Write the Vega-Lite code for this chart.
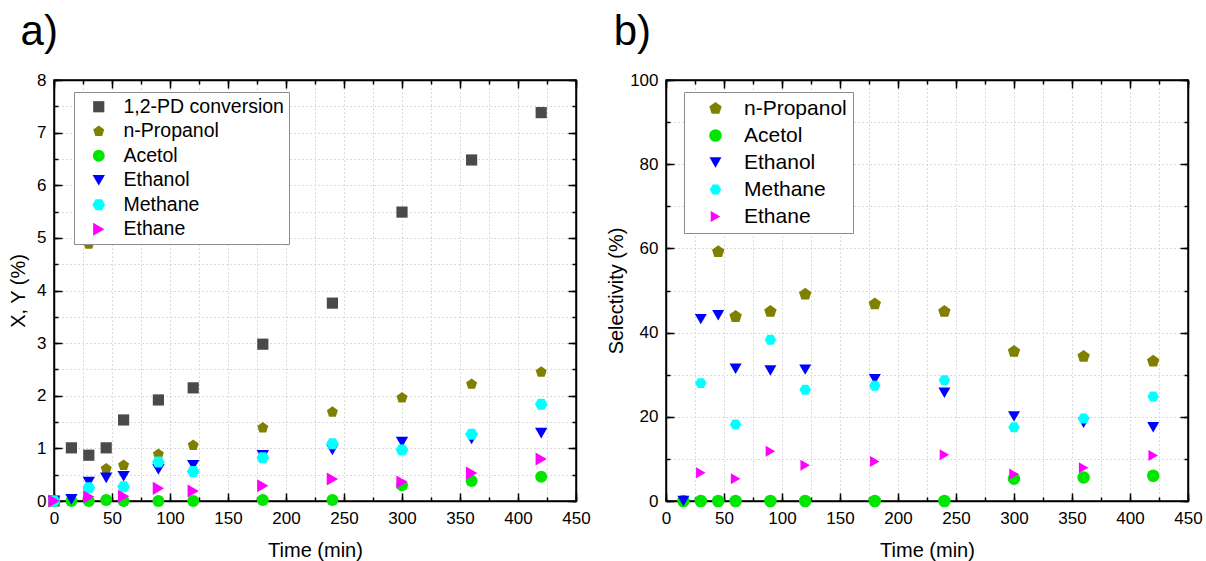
{
  "$schema": "https://vega.github.io/schema/vega-lite/v6.json",
  "padding": {"left": 7, "top": 10, "right": 5, "bottom": 5},
  "background": "white",
  "config": {
    "font": "Liberation Sans",
    "view": {"stroke": "black", "strokeWidth": 1.5},
    "axis": {"labelFontSize": 17, "titleFontSize": 20, "titleFontWeight": "normal", "labelColor": "black", "titleColor": "black", "tickColor": "black", "domainColor": "black", "domainWidth": 1.5, "tickWidth": 1.5, "gridColor": "#d0d0d0", "gridDash": [1.5, 2.5], "gridWidth": 1, "labelFlush": false},
    "title": {"fontSize": 42, "fontWeight": "normal", "anchor": "start", "frame": "bounds", "color": "black"}
  },
  "resolve": {"scale": {"color": "independent", "shape": "independent", "size": "independent"}, "legend": {"color": "independent", "shape": "independent", "size": "independent"}},
  "datasets": {
    "a": [
      {"t": 0, "series": "1,2-PD conversion", "v": 0},
      {"t": 15, "series": "1,2-PD conversion", "v": 1.01},
      {"t": 30, "series": "1,2-PD conversion", "v": 0.87},
      {"t": 45, "series": "1,2-PD conversion", "v": 1.01},
      {"t": 60, "series": "1,2-PD conversion", "v": 1.54},
      {"t": 90, "series": "1,2-PD conversion", "v": 1.92},
      {"t": 120, "series": "1,2-PD conversion", "v": 2.15},
      {"t": 180, "series": "1,2-PD conversion", "v": 2.98},
      {"t": 240, "series": "1,2-PD conversion", "v": 3.76},
      {"t": 300, "series": "1,2-PD conversion", "v": 5.49},
      {"t": 360, "series": "1,2-PD conversion", "v": 6.48},
      {"t": 420, "series": "1,2-PD conversion", "v": 7.38},
      {"t": 0, "series": "n-Propanol", "v": 0},
      {"t": 30, "series": "n-Propanol", "v": 4.88},
      {"t": 45, "series": "n-Propanol", "v": 0.61},
      {"t": 60, "series": "n-Propanol", "v": 0.68},
      {"t": 90, "series": "n-Propanol", "v": 0.89},
      {"t": 120, "series": "n-Propanol", "v": 1.06},
      {"t": 180, "series": "n-Propanol", "v": 1.39},
      {"t": 240, "series": "n-Propanol", "v": 1.69},
      {"t": 300, "series": "n-Propanol", "v": 1.96},
      {"t": 360, "series": "n-Propanol", "v": 2.22},
      {"t": 420, "series": "n-Propanol", "v": 2.45},
      {"t": 0, "series": "Acetol", "v": 0},
      {"t": 15, "series": "Acetol", "v": 0},
      {"t": 30, "series": "Acetol", "v": 0},
      {"t": 45, "series": "Acetol", "v": 0.02},
      {"t": 60, "series": "Acetol", "v": 0},
      {"t": 90, "series": "Acetol", "v": 0},
      {"t": 120, "series": "Acetol", "v": 0},
      {"t": 180, "series": "Acetol", "v": 0.02},
      {"t": 240, "series": "Acetol", "v": 0.02},
      {"t": 300, "series": "Acetol", "v": 0.3},
      {"t": 360, "series": "Acetol", "v": 0.38},
      {"t": 420, "series": "Acetol", "v": 0.46},
      {"t": 0, "series": "Ethanol", "v": 0},
      {"t": 15, "series": "Ethanol", "v": 0.03},
      {"t": 30, "series": "Ethanol", "v": 0.36},
      {"t": 45, "series": "Ethanol", "v": 0.44},
      {"t": 60, "series": "Ethanol", "v": 0.47},
      {"t": 90, "series": "Ethanol", "v": 0.6},
      {"t": 120, "series": "Ethanol", "v": 0.68},
      {"t": 180, "series": "Ethanol", "v": 0.87},
      {"t": 240, "series": "Ethanol", "v": 0.97},
      {"t": 300, "series": "Ethanol", "v": 1.12},
      {"t": 360, "series": "Ethanol", "v": 1.18},
      {"t": 420, "series": "Ethanol", "v": 1.29},
      {"t": 0, "series": "Methane", "v": 0},
      {"t": 30, "series": "Methane", "v": 0.25},
      {"t": 60, "series": "Methane", "v": 0.27},
      {"t": 90, "series": "Methane", "v": 0.74},
      {"t": 120, "series": "Methane", "v": 0.56},
      {"t": 180, "series": "Methane", "v": 0.82},
      {"t": 240, "series": "Methane", "v": 1.09},
      {"t": 300, "series": "Methane", "v": 0.97},
      {"t": 360, "series": "Methane", "v": 1.27},
      {"t": 420, "series": "Methane", "v": 1.84},
      {"t": 0, "series": "Ethane", "v": 0},
      {"t": 30, "series": "Ethane", "v": 0.08},
      {"t": 60, "series": "Ethane", "v": 0.09},
      {"t": 90, "series": "Ethane", "v": 0.24},
      {"t": 120, "series": "Ethane", "v": 0.19},
      {"t": 180, "series": "Ethane", "v": 0.29},
      {"t": 240, "series": "Ethane", "v": 0.42},
      {"t": 300, "series": "Ethane", "v": 0.36},
      {"t": 360, "series": "Ethane", "v": 0.53},
      {"t": 420, "series": "Ethane", "v": 0.8}
    ],
    "b": [
      {"t": 45, "series": "n-Propanol", "v": 59.2},
      {"t": 60, "series": "n-Propanol", "v": 43.8},
      {"t": 90, "series": "n-Propanol", "v": 45.0},
      {"t": 120, "series": "n-Propanol", "v": 49.1},
      {"t": 180, "series": "n-Propanol", "v": 46.8},
      {"t": 240, "series": "n-Propanol", "v": 45.0},
      {"t": 300, "series": "n-Propanol", "v": 35.5},
      {"t": 360, "series": "n-Propanol", "v": 34.3},
      {"t": 420, "series": "n-Propanol", "v": 33.2},
      {"t": 15, "series": "Acetol", "v": 0},
      {"t": 30, "series": "Acetol", "v": 0},
      {"t": 45, "series": "Acetol", "v": 0},
      {"t": 60, "series": "Acetol", "v": 0},
      {"t": 90, "series": "Acetol", "v": 0},
      {"t": 120, "series": "Acetol", "v": 0},
      {"t": 180, "series": "Acetol", "v": 0},
      {"t": 240, "series": "Acetol", "v": 0},
      {"t": 300, "series": "Acetol", "v": 5.3},
      {"t": 360, "series": "Acetol", "v": 5.6},
      {"t": 420, "series": "Acetol", "v": 6.0},
      {"t": 15, "series": "Ethanol", "v": 0},
      {"t": 30, "series": "Ethanol", "v": 43.2},
      {"t": 45, "series": "Ethanol", "v": 44.1},
      {"t": 60, "series": "Ethanol", "v": 31.4},
      {"t": 90, "series": "Ethanol", "v": 31.0},
      {"t": 120, "series": "Ethanol", "v": 31.2},
      {"t": 180, "series": "Ethanol", "v": 28.9},
      {"t": 240, "series": "Ethanol", "v": 25.7},
      {"t": 300, "series": "Ethanol", "v": 20.1},
      {"t": 360, "series": "Ethanol", "v": 18.6},
      {"t": 420, "series": "Ethanol", "v": 17.5},
      {"t": 30, "series": "Methane", "v": 28.0},
      {"t": 60, "series": "Methane", "v": 18.2},
      {"t": 90, "series": "Methane", "v": 38.3},
      {"t": 120, "series": "Methane", "v": 26.4},
      {"t": 180, "series": "Methane", "v": 27.4},
      {"t": 240, "series": "Methane", "v": 28.7},
      {"t": 300, "series": "Methane", "v": 17.5},
      {"t": 360, "series": "Methane", "v": 19.6},
      {"t": 420, "series": "Methane", "v": 24.8},
      {"t": 30, "series": "Ethane", "v": 6.7},
      {"t": 60, "series": "Ethane", "v": 5.3},
      {"t": 90, "series": "Ethane", "v": 11.8},
      {"t": 120, "series": "Ethane", "v": 8.5},
      {"t": 180, "series": "Ethane", "v": 9.4},
      {"t": 240, "series": "Ethane", "v": 11.0},
      {"t": 300, "series": "Ethane", "v": 6.4},
      {"t": 360, "series": "Ethane", "v": 7.9},
      {"t": 420, "series": "Ethane", "v": 10.8}
    ]
  },
  "spacing": 14,
  "hconcat": [
    {
      "width": 522,
      "height": 421,
      "data": {"name": "a"},
      "title": {"text": "a)", "dx": 12, "offset": 17},
      "layer": [
        {
          "mark": {"type": "point", "filled": true, "opacity": 1, "strokeWidth": 0},
          "encoding": {
            "x": {"field": "t", "type": "quantitative", "scale": {"domain": [0, 450], "nice": false, "zero": false},
              "axis": {"orient": "bottom", "values": [0, 50, 100, 150, 200, 250, 300, 350, 400, 450], "title": "Time (min)", "tickSize": -8, "labelPadding": 17, "grid": false, "titlePadding": 14}},
            "y": {"field": "v", "type": "quantitative", "scale": {"domain": [0, 8], "nice": false, "zero": false},
              "axis": {"orient": "left", "values": [0, 1, 2, 3, 4, 5, 6, 7, 8], "title": "X, Y (%)", "tickSize": -8, "labelPadding": 16, "grid": false, "titlePadding": 8}},
            "color": {"field": "series", "type": "nominal",
              "scale": {"domain": ["1,2-PD conversion", "n-Propanol", "Acetol", "Ethanol", "Methane", "Ethane"], "range": ["#4a4a4a", "#808000", "#00e600", "#0000ff", "#00ffff", "#ff00ff"]},
              "legend": {"orient": "none", "legendX": 20, "legendY": 12, "title": null, "strokeColor": "#8c8c8c", "fillColor": "white", "padding": 5, "symbolOffset": 10, "labelFontSize": 19.5, "labelLimit": 400, "rowPadding": 3.5, "labelOffset": 15, "symbolStrokeWidth": 0, "labelColor": "black"}},
            "shape": {"field": "series", "type": "nominal",
              "scale": {"domain": ["1,2-PD conversion", "n-Propanol", "Acetol", "Ethanol", "Methane", "Ethane"], "range": ["square", "M0,-1L0.951,-0.309L0.588,0.809L-0.588,0.809L-0.951,-0.309Z", "circle", "triangle-down", "M-1,0L-0.5,-0.866L0.5,-0.866L1,0L0.5,0.866L-0.5,0.866Z", "triangle-right"]}},
            "size": {"field": "series", "type": "nominal",
              "scale": {"domain": ["1,2-PD conversion", "n-Propanol", "Acetol", "Ethanol", "Methane", "Ethane"], "range": [125, 170, 120, 160, 150, 160]}}
          }
        },
        {
          "mark": {"type": "point", "opacity": 0},
          "encoding": {
            "x": {"field": "t", "type": "quantitative", "axis": {"orient": "top", "values": [0, 50, 100, 150, 200, 250, 300, 350, 400, 450], "labels": false, "title": null, "tickSize": -8, "grid": false}},
            "y": {"field": "v", "type": "quantitative", "axis": {"orient": "right", "values": [0, 1, 2, 3, 4, 5, 6, 7, 8], "labels": false, "title": null, "tickSize": -8, "grid": false}}
          }
        },
        {
          "mark": {"type": "point", "opacity": 0},
          "encoding": {
            "x": {"field": "t", "type": "quantitative", "axis": {"orient": "bottom", "values": [0, 25, 50, 75, 100, 125, 150, 175, 200, 225, 250, 275, 300, 325, 350, 375, 400, 425, 450], "labels": false, "title": null, "tickSize": -4, "grid": true, "domain": false}},
            "y": {"field": "v", "type": "quantitative", "axis": {"orient": "left", "values": [0, 0.5, 1, 1.5, 2, 2.5, 3, 3.5, 4, 4.5, 5, 5.5, 6, 6.5, 7, 7.5, 8], "labels": false, "title": null, "tickSize": -4, "grid": true, "domain": false}}
          }
        },
        {
          "mark": {"type": "point", "opacity": 0},
          "encoding": {
            "x": {"field": "t", "type": "quantitative", "axis": {"orient": "top", "values": [0, 25, 50, 75, 100, 125, 150, 175, 200, 225, 250, 275, 300, 325, 350, 375, 400, 425, 450], "labels": false, "title": null, "tickSize": -4, "grid": false, "domain": false}},
            "y": {"field": "v", "type": "quantitative", "axis": {"orient": "right", "values": [0, 0.5, 1, 1.5, 2, 2.5, 3, 3.5, 4, 4.5, 5, 5.5, 6, 6.5, 7, 7.5, 8], "labels": false, "title": null, "tickSize": -4, "grid": false, "domain": false}}
          }
        }
      ],
      "resolve": {"axis": {"x": "independent", "y": "independent"}}
    },
    {
      "width": 522,
      "height": 421,
      "data": {"name": "b"},
      "title": {"text": "b)", "dx": 7, "offset": 17},
      "layer": [
        {
          "mark": {"type": "point", "filled": true, "opacity": 1, "strokeWidth": 0},
          "encoding": {
            "x": {"field": "t", "type": "quantitative", "scale": {"domain": [0, 450], "nice": false, "zero": false},
              "axis": {"orient": "bottom", "values": [0, 50, 100, 150, 200, 250, 300, 350, 400, 450], "title": "Time (min)", "tickSize": -8, "labelPadding": 17, "grid": false, "titlePadding": 14}},
            "y": {"field": "v", "type": "quantitative", "scale": {"domain": [0, 100], "nice": false, "zero": false},
              "axis": {"orient": "left", "values": [0, 20, 40, 60, 80, 100], "title": "Selectivity (%)", "tickSize": -8, "labelPadding": 16, "grid": false, "titlePadding": 3}},
            "color": {"field": "series", "type": "nominal",
              "scale": {"domain": ["n-Propanol", "Acetol", "Ethanol", "Methane", "Ethane"], "range": ["#808000", "#00e600", "#0000ff", "#00ffff", "#ff00ff"]},
              "legend": {"orient": "none", "legendX": 18, "legendY": 12, "title": null, "strokeColor": "#8c8c8c", "fillColor": "white", "padding": 6, "symbolOffset": 15, "labelFontSize": 21, "labelLimit": 400, "rowPadding": 5, "labelOffset": 18, "symbolStrokeWidth": 0, "labelColor": "black"}},
            "shape": {"field": "series", "type": "nominal",
              "scale": {"domain": ["n-Propanol", "Acetol", "Ethanol", "Methane", "Ethane"], "range": ["M0,-1L0.951,-0.309L0.588,0.809L-0.588,0.809L-0.951,-0.309Z", "circle", "triangle-down", "M-1,0L-0.5,-0.866L0.5,-0.866L1,0L0.5,0.866L-0.5,0.866Z", "triangle-right"]}},
            "size": {"field": "series", "type": "nominal",
              "scale": {"domain": ["n-Propanol", "Acetol", "Ethanol", "Methane", "Ethane"], "range": [170, 120, 160, 150, 160]}}
          }
        },
        {
          "mark": {"type": "point", "opacity": 0},
          "encoding": {
            "x": {"field": "t", "type": "quantitative", "axis": {"orient": "top", "values": [0, 50, 100, 150, 200, 250, 300, 350, 400, 450], "labels": false, "title": null, "tickSize": -8, "grid": false}},
            "y": {"field": "v", "type": "quantitative", "axis": {"orient": "right", "values": [0, 20, 40, 60, 80, 100], "labels": false, "title": null, "tickSize": -8, "grid": false}}
          }
        },
        {
          "mark": {"type": "point", "opacity": 0},
          "encoding": {
            "x": {"field": "t", "type": "quantitative", "axis": {"orient": "bottom", "values": [0, 25, 50, 75, 100, 125, 150, 175, 200, 225, 250, 275, 300, 325, 350, 375, 400, 425, 450], "labels": false, "title": null, "tickSize": -4, "grid": true, "domain": false}},
            "y": {"field": "v", "type": "quantitative", "axis": {"orient": "left", "values": [0, 10, 20, 30, 40, 50, 60, 70, 80, 90, 100], "labels": false, "title": null, "tickSize": -4, "grid": true, "domain": false}}
          }
        },
        {
          "mark": {"type": "point", "opacity": 0},
          "encoding": {
            "x": {"field": "t", "type": "quantitative", "axis": {"orient": "top", "values": [0, 25, 50, 75, 100, 125, 150, 175, 200, 225, 250, 275, 300, 325, 350, 375, 400, 425, 450], "labels": false, "title": null, "tickSize": -4, "grid": false, "domain": false}},
            "y": {"field": "v", "type": "quantitative", "axis": {"orient": "right", "values": [0, 10, 20, 30, 40, 50, 60, 70, 80, 90, 100], "labels": false, "title": null, "tickSize": -4, "grid": false, "domain": false}}
          }
        }
      ],
      "resolve": {"axis": {"x": "independent", "y": "independent"}}
    }
  ]
}
